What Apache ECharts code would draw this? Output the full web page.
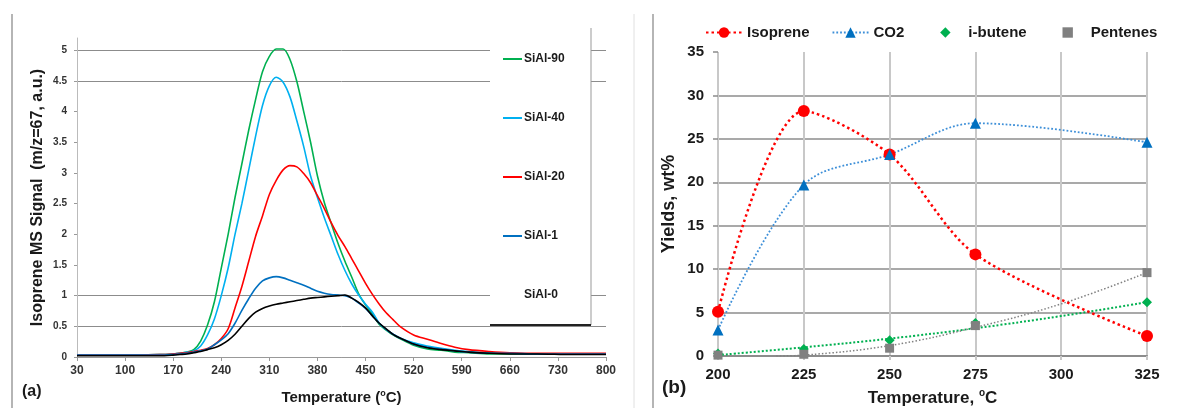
<!DOCTYPE html>
<html>
<head>
<meta charset="utf-8">
<script src="https://cdn.jsdelivr.net/npm/echarts@6.0.0/dist/echarts.min.js"></script>
<style>
  html, body { margin: 0; padding: 0; background: #fff; }
  #chart { width: 1192px; height: 408px; }
</style>
</head>
<body>
<div id="chart"></div>
<script>
// ---- panel (a): isoprene MS signal vs temperature ----
const tempA = [30, 100, 150, 170,
  180, 190, 200, 210, 220, 230, 240, 250, 260, 270, 280, 290, 300, 310, 320, 330, 340,
  350, 360, 370, 380, 390, 400, 410, 420, 430, 440, 450, 460, 470, 480, 490, 500,
  520, 540, 560, 580, 600, 630, 660, 700, 750, 800];

const sial90 = [0.03, 0.03, 0.04, 0.05,
  0.06, 0.08, 0.12, 0.26, 0.52, 0.90, 1.45, 2.00, 2.60, 3.15, 3.70, 4.20, 4.65, 4.90, 5.02, 5.02, 4.85,
  4.49, 4.00, 3.50, 2.95, 2.52, 2.18, 1.85, 1.56, 1.30, 1.03, 0.85, 0.70, 0.53, 0.44, 0.36, 0.30,
  0.19, 0.13, 0.11, 0.08, 0.07, 0.05, 0.05, 0.05, 0.05, 0.05];
const sial40 = [0.03, 0.03, 0.04, 0.05,
  0.06, 0.08, 0.10, 0.18, 0.36, 0.62, 1.00, 1.45, 2.00, 2.50, 3.05, 3.60, 4.10, 4.42, 4.56, 4.48, 4.24,
  3.85, 3.43, 2.95, 2.60, 2.27, 1.97, 1.67, 1.41, 1.19, 1.01, 0.86, 0.73, 0.55, 0.45, 0.37, 0.31,
  0.23, 0.18, 0.14, 0.11, 0.09, 0.07, 0.06, 0.05, 0.05, 0.05];
const sial20 = [0.03, 0.03, 0.04, 0.05,
  0.06, 0.07, 0.09, 0.11, 0.14, 0.20, 0.30, 0.46, 0.80, 1.15, 1.56, 1.97, 2.30, 2.65, 2.88, 3.05, 3.12,
  3.10, 2.99, 2.84, 2.63, 2.42, 2.19, 1.98, 1.80, 1.60, 1.40, 1.20, 1.02, 0.86, 0.72, 0.61, 0.50,
  0.36, 0.29, 0.22, 0.16, 0.12, 0.09, 0.07, 0.06, 0.06, 0.06];
const sial1 = [0.03, 0.03, 0.03, 0.04,
  0.05, 0.06, 0.08, 0.10, 0.13, 0.20, 0.28, 0.38, 0.55, 0.76, 0.95, 1.12, 1.24, 1.29, 1.31, 1.29, 1.25,
  1.21, 1.17, 1.12, 1.07, 1.04, 1.02, 1.01, 1.00, 0.96, 0.88, 0.79, 0.67, 0.55, 0.45, 0.37, 0.31,
  0.21, 0.16, 0.13, 0.10, 0.08, 0.06, 0.06, 0.05, 0.05, 0.05];
const sial0 = [0.02, 0.02, 0.02, 0.03,
  0.04, 0.05, 0.07, 0.09, 0.12, 0.15, 0.20, 0.27, 0.37, 0.50, 0.63, 0.73, 0.79, 0.83, 0.86, 0.88, 0.90,
  0.92, 0.94, 0.96, 0.97, 0.98, 0.99, 1.00, 1.01, 0.96, 0.89, 0.80, 0.67, 0.55, 0.46, 0.37, 0.31,
  0.21, 0.15, 0.12, 0.10, 0.08, 0.06, 0.05, 0.05, 0.04, 0.04];

const xTicksA = [30, 100, 170, 240, 310, 380, 450, 520, 590, 660, 730, 800];
const yTicksA = [0, 0.5, 1, 1.5, 2, 2.5, 3, 3.5, 4, 4.5, 5];

// ---- panel (b): yields vs temperature ----
const tempB = [200, 225, 250, 275, 325];
const isoprene = [5.1, 28.2, 23.2, 11.7, 2.3];
const co2 = [3.0, 19.7, 23.2, 26.8, 24.6];
const ibutene = [0.3, 0.8, 1.8, 3.8, 6.2];
const pentenes = [0.1, 0.2, 0.9, 3.5, 9.6];

// dotted trend lines of the minor products
const ibuteneTrendTemp = [200, 225, 250, 275, 300, 325];
const ibuteneTrend = [0.1, 1.0, 2.0, 3.2, 4.6, 6.2];
const pentenesTrendTemp = [217, 225, 250, 275, 300, 325];
const pentenesTrend = [0.0, 0.1, 1.2, 3.3, 6.0, 9.6];

const pairs = (xs, ys) => xs.map((x, i) => [x, ys[i]]);

const FONT = 'Liberation Sans';
const INK = '#1a1a1a';
const chart = echarts.init(document.getElementById('chart'));

const lineA = (name, data, color) => ({
  name: name,
  type: 'line',
  xAxisIndex: 0,
  yAxisIndex: 0,
  data: pairs(tempA, data),
  smooth: 0.3,
  symbol: 'none',
  lineStyle: { color: color, width: 1.6 },
  itemStyle: { color: color }
});

const option = {
  animation: false,
  textStyle: { fontFamily: FONT },
  title: [
    { text: '(a)', left: 17, top: 379, textStyle: { fontSize: 16, fontWeight: 'bold', color: INK } },
    { text: '(b)', left: 657, top: 373, textStyle: { fontSize: 19, fontWeight: 'bold', color: INK } }
  ],
  legend: [
    {
      data: ['SiAl-90', 'SiAl-40', 'SiAl-20', 'SiAl-1', { name: 'SiAl-0', itemStyle: { opacity: 0 } }],
      orient: 'vertical',
      left: 498,
      top: 48,
      itemGap: 47,
      itemWidth: 19,
      itemHeight: 2,
      icon: 'rect',
      z: 10,
      textStyle: { fontSize: 12, fontWeight: 'bold', color: INK, padding: [0, 0, 0, -3] }
    },
    {
      data: ['Isoprene', 'CO2', 'i-butene', 'Pentenes'],
      left: 700,
      top: 20,
      itemWidth: 36,
      itemHeight: 13,
      itemGap: 22,
      textStyle: { fontSize: 15, fontWeight: 'bold', color: INK }
    }
  ],
  grid: [
    { left: 77, right: 586, top: 38, bottom: 51, outerBoundsMode: 'none' },
    { left: 718, right: 45, top: 52, bottom: 52, outerBoundsMode: 'none' }
  ],
  xAxis: [
    {
      type: 'value',
      gridIndex: 0,
      min: 30,
      max: 800,
      axisLine: { lineStyle: { color: '#999', width: 1 } },
      axisTick: { customValues: xTicksA, length: 4, lineStyle: { color: '#999' } },
      axisLabel: { customValues: xTicksA, fontSize: 12, fontWeight: 'bold', color: '#333', margin: 8 },
      splitLine: { show: false },
      name: '{t|Temperature (}{s|o}{t|C)}',
      nameLocation: 'middle',
      nameGap: 32,
      nameTextStyle: {
        rich: {
          t: { fontSize: 15, fontWeight: 'bold', color: INK, lineHeight: 18 },
          s: { fontSize: 9, fontWeight: 'bold', color: INK, verticalAlign: 'top', lineHeight: 11 }
        }
      }
    },
    {
      type: 'value',
      gridIndex: 1,
      min: 200,
      max: 325,
      interval: 25,
      axisLine: { lineStyle: { color: '#8c8c8c', width: 2 } },
      axisTick: { length: 4, lineStyle: { color: '#c8c8c8', width: 2 } },
      axisLabel: { fontSize: 15, fontWeight: 'bold', color: INK, margin: 11 },
      splitLine: { show: true, lineStyle: { color: '#c8c8c8', width: 2 } },
      name: '{t|Temperature, }{s|o}{t|C}',
      nameLocation: 'middle',
      nameGap: 32,
      nameTextStyle: {
        rich: {
          t: { fontSize: 17, fontWeight: 'bold', color: INK, lineHeight: 20 },
          s: { fontSize: 10, fontWeight: 'bold', color: INK, verticalAlign: 'top', lineHeight: 12 }
        }
      }
    }
  ],
  yAxis: [
    {
      type: 'value',
      gridIndex: 0,
      min: 0,
      max: 5.2,
      interval: 0.5,
      axisLine: { show: true, lineStyle: { color: '#bbb', width: 1 } },
      axisTick: { show: true, customValues: yTicksA, length: 3, lineStyle: { color: '#999' } },
      axisLabel: { customValues: yTicksA, fontSize: 10, fontWeight: 'bold', color: '#333', margin: 10 },
      splitLine: {
        show: true,
        lineStyle: {
          width: 1,
          color: ['#999', '#8c8c8c', '#8c8c8c', 'transparent', 'transparent', 'transparent',
            'transparent', 'transparent', 'transparent', '#8c8c8c', '#8c8c8c', 'transparent']
        }
      },
      name: 'Isoprene MS Signal  (m/z=67, a.u.)',
      nameLocation: 'middle',
      nameGap: 31,
      nameTextStyle: { fontSize: 16, fontWeight: 'bold', color: INK }
    },
    {
      type: 'value',
      gridIndex: 1,
      min: 0,
      max: 35,
      interval: 5,
      axisLine: { show: false },
      axisTick: { show: true, length: 5, lineStyle: { color: '#8c8c8c', width: 1.5 } },
      axisLabel: { fontSize: 15, fontWeight: 'bold', color: INK, margin: 14 },
      splitLine: { show: true, showMaxLine: false, lineStyle: { color: '#8c8c8c', width: 1.5 } },
      name: 'Yields, wt%',
      nameLocation: 'middle',
      nameGap: 40,
      nameTextStyle: { fontSize: 18, fontWeight: 'bold', color: INK }
    }
  ],
  graphic: [
    // panel frames
    { type: 'line', shape: { x1: 12, y1: 14, x2: 12, y2: 408 }, style: { stroke: '#b5b5b5', lineWidth: 2 } },
    { type: 'line', shape: { x1: 634, y1: 14, x2: 634, y2: 408 }, style: { stroke: '#e0e0e0', lineWidth: 1 } },
    { type: 'line', shape: { x1: 653, y1: 14, x2: 653, y2: 408 }, style: { stroke: '#b5b5b5', lineWidth: 2 } },
    // legend box of panel (a)
    { type: 'rect', z: 6, shape: { x: 490, y: 28, width: 101, height: 297 }, style: { fill: '#fff' } },
    { type: 'line', z: 7, shape: { x1: 591, y1: 28, x2: 591, y2: 325 }, style: { stroke: '#999', lineWidth: 1 } },
    { type: 'line', z: 7, shape: { x1: 490, y1: 325, x2: 591, y2: 325 }, style: { stroke: '#222', lineWidth: 2 } }
  ],
  series: [
    lineA('SiAl-90', sial90, '#00b050'),
    lineA('SiAl-40', sial40, '#00b0f0'),
    lineA('SiAl-20', sial20, '#ff0000'),
    lineA('SiAl-1', sial1, '#0070c0'),
    lineA('SiAl-0', sial0, '#000000'),
    {
      name: 'i-butene trend',
      type: 'line',
      xAxisIndex: 1,
      yAxisIndex: 1,
      data: pairs(ibuteneTrendTemp, ibuteneTrend),
      smooth: 0.4,
      symbol: 'none',
      lineStyle: { color: '#00b050', width: 2, type: [2, 2] }
    },
    {
      name: 'Pentenes trend',
      type: 'line',
      xAxisIndex: 1,
      yAxisIndex: 1,
      data: pairs(pentenesTrendTemp, pentenesTrend),
      smooth: 0.4,
      symbol: 'none',
      lineStyle: { color: '#808080', width: 1.5, type: [1.5, 2] }
    },
    {
      name: 'Isoprene',
      type: 'line',
      xAxisIndex: 1,
      yAxisIndex: 1,
      data: pairs(tempB, isoprene),
      smooth: 0.3,
      symbol: 'circle',
      symbolSize: 12,
      lineStyle: { color: '#ff0000', width: 2.5, type: [2.5, 3] },
      itemStyle: { color: '#ff0000' }
    },
    {
      name: 'CO2',
      type: 'line',
      xAxisIndex: 1,
      yAxisIndex: 1,
      data: pairs(tempB, co2),
      smooth: 0.35,
      symbol: 'triangle',
      symbolSize: 11,
      lineStyle: { color: '#3d8fd8', width: 1.8, type: [1.8, 2] },
      itemStyle: { color: '#0070c0' }
    },
    {
      name: 'i-butene',
      type: 'line',
      xAxisIndex: 1,
      yAxisIndex: 1,
      data: pairs(tempB, ibutene),
      symbol: 'diamond',
      symbolSize: 10,
      lineStyle: { opacity: 0 },
      itemStyle: { color: '#00b050' },
      z: 4
    },
    {
      name: 'Pentenes',
      type: 'line',
      xAxisIndex: 1,
      yAxisIndex: 1,
      data: pairs(tempB, pentenes),
      symbol: 'rect',
      symbolSize: 9,
      lineStyle: { opacity: 0 },
      itemStyle: { color: '#808080' },
      z: 4
    }
  ]
};

chart.setOption(option);
</script>
</body>
</html>
